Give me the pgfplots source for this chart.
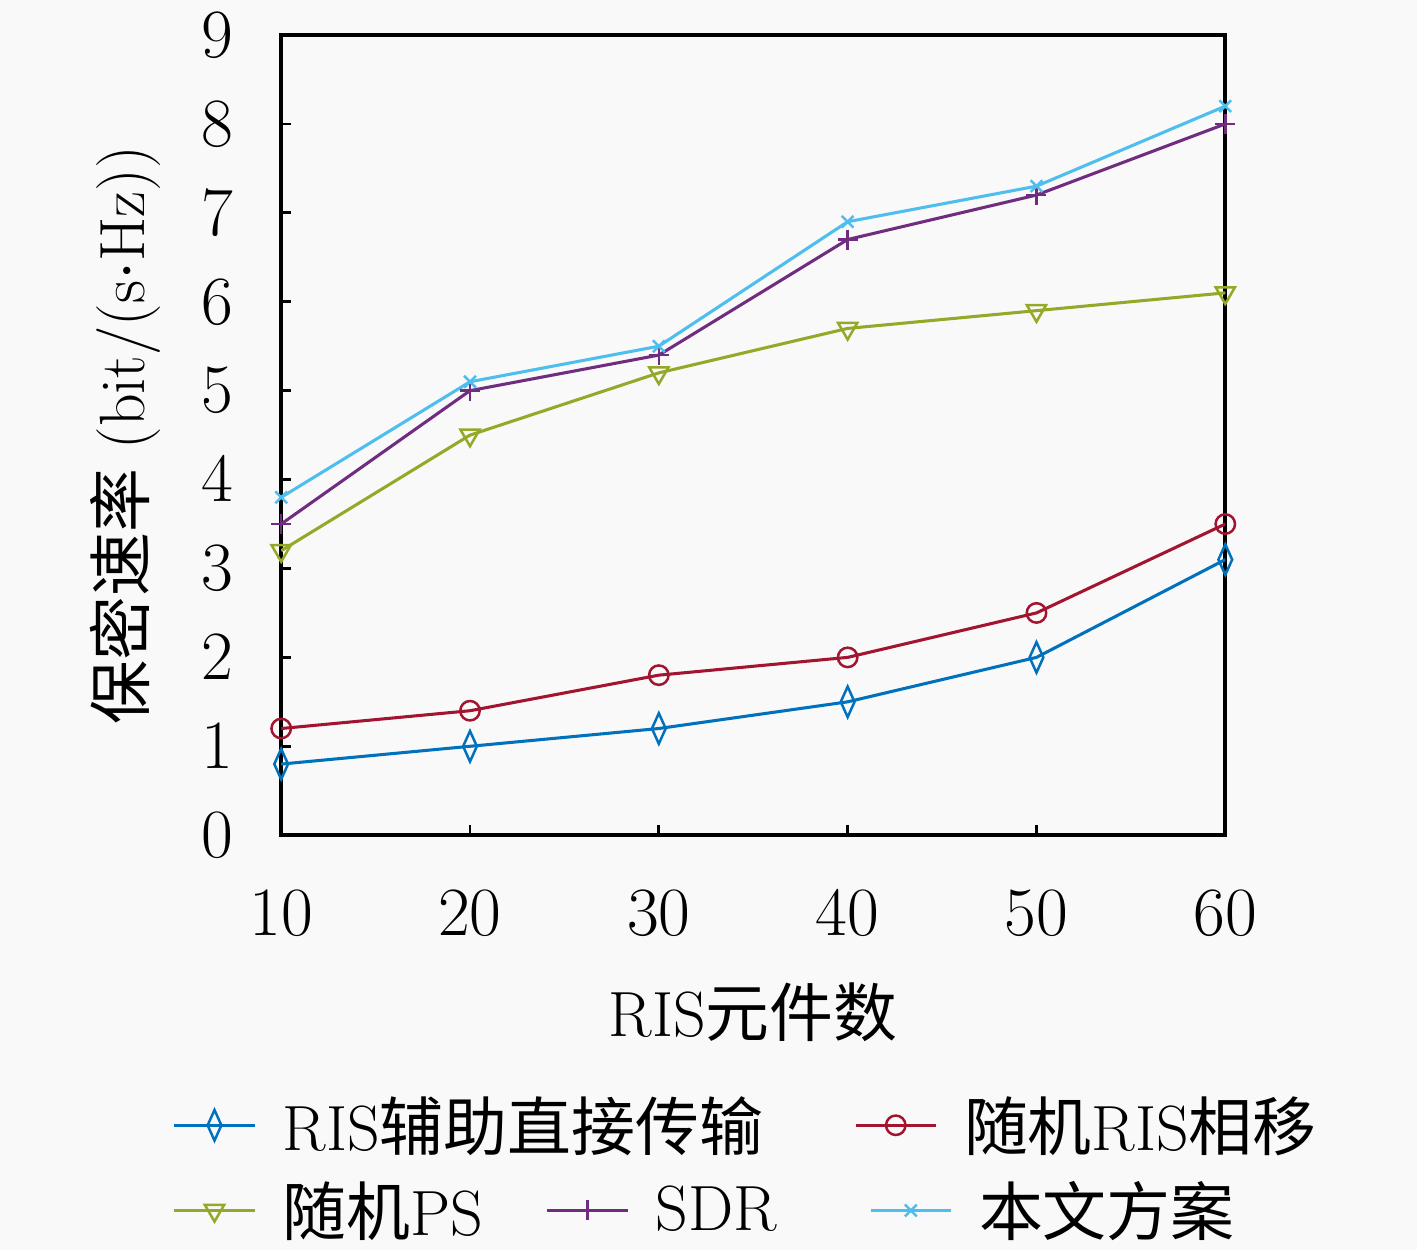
\documentclass[border=0pt]{standalone}
\usepackage{fontspec}
\usepackage{pgfplots}
\pgfplotsset{compat=1.18}
\newfontfamily\cjk{Noto Sans CJK SC}
\definecolor{c1}{RGB}{0,114,189}
\definecolor{c2}{RGB}{162,20,47}
\definecolor{c3}{RGB}{150,168,40}
\definecolor{c4}{RGB}{112,45,128}
\definecolor{c5}{RGB}{77,190,238}
\definecolor{bg}{RGB}{249,249,249}
\pgfplotsset{
 base/.style={
  at={(101.2pt,149.4pt)}, anchor=south west, scale only axis,
  width=339.8pt, height=288pt,
  xmin=10,xmax=60,ymin=0,ymax=9,
  every axis plot/.append style={line width=1.1pt},
  legend image code/.code={\draw[mark repeat=2,mark phase=2] plot coordinates {(0pt,0pt)(14.5pt,0pt)(29pt,0pt)};},
  legend style={draw=none, fill=none, inner sep=0pt, font=\fontsize{23}{27}\selectfont,
    nodes={inner sep=0pt, anchor=west},
    /tikz/every odd column/.append style={column sep=9.5pt}},
  legend cell align=left,
 }
}
\begin{document}
\begin{tikzpicture}
\useasboundingbox (0,0) rectangle (510pt,450pt);
\fill[bg] (0,0) rectangle (510pt,450pt);
\begin{axis}[base,
 axis line style={line width=1.4pt}, tick style={line width=1pt, black},
 major tick length=3.6pt, tick align=inside, xtick pos=bottom, ytick pos=left,
 xtick={10,20,30,40,50,60}, ytick={0,1,2,3,4,5,6,7,8,9},
 ticklabel style={font=\fontsize{24}{28}\selectfont},
 yticklabel style={anchor=east, inner sep=0pt, xshift=-17pt},
 xticklabel style={anchor=north, inner sep=0pt, yshift=-19.8pt},
 xlabel={RIS{\cjk 元件数}}, ylabel={{\cjk 保密速率} (bit/(s$\cdot$Hz))},
 label style={font=\fontsize{23}{27}\selectfont},
 xlabel style={at={(axis description cs:0.5,-0.221)}, anchor=center},
 ylabel style={at={(axis description cs:-0.165,0.5)}, anchor=center},
 legend columns=2,
 legend style={at={(axis description cs:-0.1155,-0.3625)}, anchor=west},
]
\addplot[c1, mark=diamond, mark size=5.5pt, mark options={solid, xscale=0.6, line width=0.9pt}]
 coordinates {(10,0.8)(20,1.0)(30,1.2)(40,1.5)(50,2.0)(60,3.1)};
\addlegendentry{\makebox[205.6pt][l]{RIS{\cjk 辅助直接传输}}}
\addplot[c2, mark=o, mark size=3.5pt, mark options={solid, line width=0.9pt}]
 coordinates {(10,1.2)(20,1.4)(30,1.8)(40,2.0)(50,2.5)(60,3.5)};
\addlegendentry{{\cjk 随机}RIS{\cjk 相移}}
\end{axis}
\begin{axis}[base, hide axis,
 legend columns=3,
 legend style={at={(axis description cs:-0.1155,-0.469)}, anchor=west},
]
\addplot[c3, mark=triangle, mark size=4pt, mark options={solid, rotate=180, line width=0.9pt}]
 coordinates {(10,3.2)(20,4.5)(30,5.2)(40,5.7)(50,5.9)(60,6.1)};
\addlegendentry{\makebox[94.7pt][l]{{\cjk 随机}PS}}
\addplot[c4, mark=+, mark size=3.6pt, mark options={solid, line width=0.9pt}]
 coordinates {(10,3.5)(20,5.0)(30,5.4)(40,6.7)(50,7.2)(60,8.0)};
\addlegendentry{\makebox[76.7pt][l]{SDR}}
\addplot[c5, mark=x, mark size=3pt, mark options={solid, line width=0.9pt}]
 coordinates {(10,3.8)(20,5.1)(30,5.5)(40,6.9)(50,7.3)(60,8.2)};
\addlegendentry{{\cjk 本文方案}}
\end{axis}
\end{tikzpicture}
\end{document}
